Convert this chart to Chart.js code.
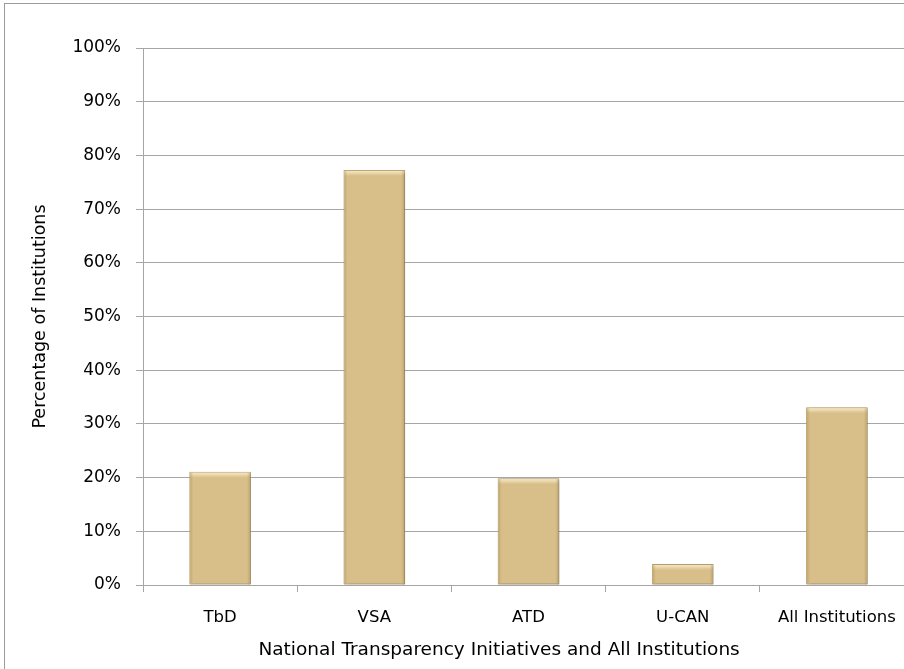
<!DOCTYPE html>
<html>
<head>
<meta charset="utf-8">
<script src="https://cdn.jsdelivr.net/npm/chart.js@4/dist/chart.umd.min.js"></script>
<style>
  html, body { margin: 0; padding: 0; background: #fff; overflow: hidden; }
  .wrap { position: relative; width: 904px; height: 669px; overflow: hidden; }
  .frame { position: absolute; left: 4px; top: 3px; width: 1200px; height: 1200px; border: 1px solid #9c9c9c; pointer-events: none; }
  canvas { position: absolute; left: 0; top: 0; }
</style>
</head>
<body>
<div class="wrap">
  <canvas id="chart" width="920" height="669"></canvas>
  <div class="frame"></div>
</div>
<script>
const categories = ['TbD', 'VSA', 'ATD', 'U-CAN', 'All Institutions'];
const values = [21.1, 77.3, 19.9, 3.9, 33.1];
const yTicks = [0, 10, 20, 30, 40, 50, 60, 70, 80, 90, 100];

const font = '"DejaVu Sans", sans-serif';

// soft shadow + bevel look on the bars
const barLook = {
  id: 'barLook',
  beforeDatasetsDraw(chart) {
    const c = chart.ctx;
    c.save();
    c.shadowColor = 'rgba(0,0,0,0.35)';
    c.shadowBlur = 3;
    c.shadowOffsetX = 1.5;
    c.shadowOffsetY = 1;
  },
  afterDatasetsDraw(chart) {
    const c = chart.ctx;
    c.restore();
    chart.getDatasetMeta(0).data.forEach(bar => {
      const l = bar.x - bar.width / 2, r = bar.x + bar.width / 2;
      const t = bar.y, b = bar.base;
      c.save();
      let g = c.createLinearGradient(0, t, 0, t + 6);
      g.addColorStop(0, 'rgba(255,245,215,0.9)');
      g.addColorStop(1, 'rgba(255,245,215,0)');
      c.fillStyle = g;
      c.fillRect(l + 1, t + 1, r - l - 2, Math.min(6, b - t - 1));
      g = c.createLinearGradient(l, 0, l + 4, 0);
      g.addColorStop(0, 'rgba(170,140,80,0.6)');
      g.addColorStop(1, 'rgba(170,140,80,0)');
      c.fillStyle = g;
      c.fillRect(l + 1, t + 1, 4, b - t - 1);
      g = c.createLinearGradient(r, 0, r - 4, 0);
      g.addColorStop(0, 'rgba(170,140,80,0.6)');
      g.addColorStop(1, 'rgba(170,140,80,0)');
      c.fillStyle = g;
      c.fillRect(r - 5, t + 1, 4, b - t - 1);
      c.restore();
    });
  }
};

// title sits a bit left of the plot centre in the original, pad it with nbsp
const xTitle = 'National Transparency Initiatives and All Institutions' + '\u00a0'.repeat(10);

new Chart(document.getElementById('chart'), {
  type: 'bar',
  data: {
    labels: categories,
    datasets: [{
      data: values,
      backgroundColor: '#D8BF89',
      borderColor: '#BFA470',
      borderWidth: 1,
      borderSkipped: false,
      barPercentage: 0.8,
      categoryPercentage: 0.5
    }]
  },
  options: {
    responsive: false,
    animation: false,
    layout: { padding: { left: 0, right: 6, top: 48, bottom: 0 } },
    plugins: {
      legend: { display: false },
      tooltip: { enabled: false }
    },
    scales: {
      x: {
        grid: {
          offset: true,
          drawOnChartArea: false,
          drawTicks: true,
          tickLength: 7,
          color: '#a6a6a6'
        },
        border: { color: '#a6a6a6' },
        ticks: {
          color: '#000',
          padding: 16,
          maxRotation: 0,
          font: { family: font, size: 16.5 }
        },
        title: {
          display: true,
          text: xTitle,
          color: '#000',
          padding: { top: 4, bottom: 8 },
          font: { family: font, size: 18.5 }
        },
        afterFit(scale) { scale.height = 84; }
      },
      y: {
        min: 0,
        max: 100,
        afterBuildTicks(scale) { scale.ticks = yTicks.map(v => ({ value: v })); },
        grid: {
          color: '#a6a6a6',
          tickLength: 7
        },
        border: { color: '#a6a6a6' },
        ticks: {
          color: '#000',
          padding: 15,
          font: { family: font, size: 17 },
          callback: v => v + '%'
        },
        title: {
          display: true,
          text: 'Percentage of Institutions',
          color: '#000',
          padding: { top: 30, bottom: 0 },
          font: { family: font, size: 17.5 }
        },
        afterFit(scale) { scale.width = 143; }
      }
    }
  },
  plugins: [barLook]
});
</script>
</body>
</html>
